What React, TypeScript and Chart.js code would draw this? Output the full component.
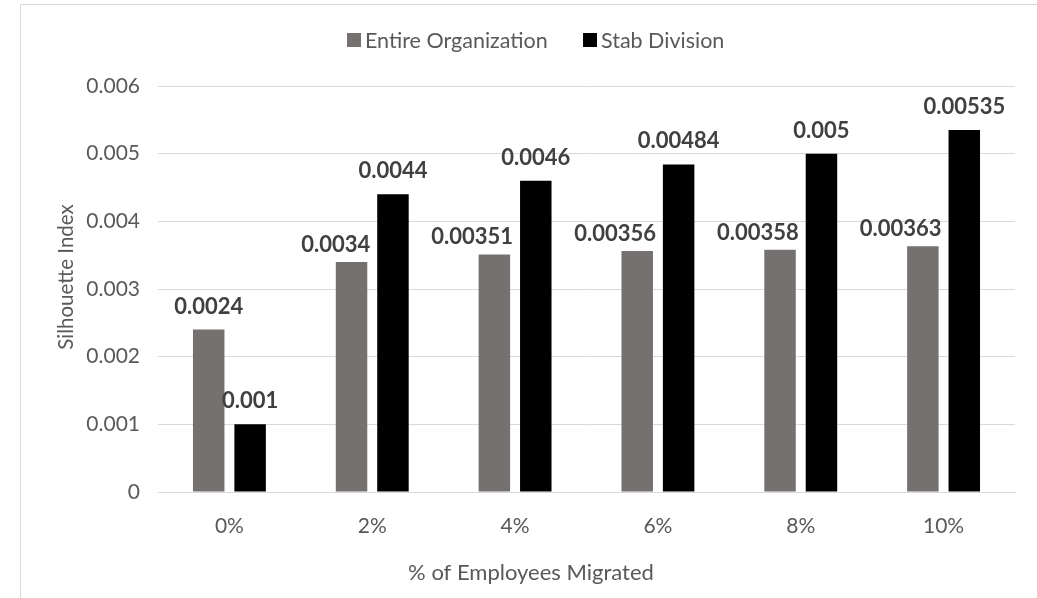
import { useEffect, useRef } from 'react';
import { Chart, registerables } from 'chart.js';

Chart.register(...registerables);

// Silhouette index per migration share
const categories = ['0%', '2%', '4%', '6%', '8%', '10%'];
const entireOrganization = [0.0024, 0.0034, 0.00351, 0.00356, 0.00358, 0.00363];
const stabDivision = [0.001, 0.0044, 0.0046, 0.00484, 0.005, 0.00535];
const yTickLabels = ['0', '0.001', '0.002', '0.003', '0.004', '0.005', '0.006'];
const seriesNames = ['Entire Organization', 'Stab Division'];
const seriesColors = ['#767171', '#000000'];
const xTitle = '% of Employees Migrated';
const yTitle = 'Silhouette Index';

const FONT = 'Lato, "Open Sans", sans-serif';
const TEXT = '#595959';

// value above each bar; grey labels next to a taller black bar are
// pulled left so they stay clear of it
const valueLabels = {
  id: 'valueLabels',
  afterDatasetsDraw(chart: any) {
    const ctx = chart.ctx;
    ctx.save();
    ctx.font = `bold 22px ${FONT}`;
    ctx.fillStyle = '#404040';
    ctx.textBaseline = 'alphabetic';
    chart.data.datasets.forEach((ds: any, i: number) => {
      const meta = chart.getDatasetMeta(i);
      const other = chart.data.datasets[1 - i]?.data ?? [];
      meta.data.forEach((bar: any, j: number) => {
        const text = String(ds.data[j]);
        if (i === 0 && other[j] > ds.data[j]) {
          ctx.textAlign = 'right';
          ctx.fillText(text, bar.x + bar.width / 2 + 3, bar.y - 10);
        } else {
          ctx.textAlign = 'center';
          ctx.fillText(text, bar.x, bar.y - 16);
        }
      });
    });
    ctx.restore();
  },
};

// legend row and axis titles
const decorations = {
  id: 'decorations',
  afterDraw(chart: any) {
    const ctx = chart.ctx;
    ctx.save();
    ctx.font = `21.5px ${FONT}`;
    ctx.textBaseline = 'middle';
    ctx.textAlign = 'left';
    const legendY = 40;
    const boxX = [347, 583];
    seriesNames.forEach((name, i) => {
      ctx.fillStyle = seriesColors[i];
      ctx.fillRect(boxX[i], legendY - 7, 14, 14);
      ctx.fillStyle = TEXT;
      ctx.fillText(name, boxX[i] + 18, legendY + 1);
    });

    ctx.textAlign = 'center';
    ctx.font = `22px ${FONT}`;
    ctx.fillText(xTitle, 531, 573);

    ctx.translate(66, 277);
    ctx.rotate(-Math.PI / 2);
    ctx.font = `20.5px ${FONT}`;
    ctx.fillText(yTitle, 0, 0);
    ctx.restore();
  },
};

export default function App() {
  const canvasRef = useRef<HTMLCanvasElement | null>(null);

  useEffect(() => {
    const canvas = canvasRef.current;
    if (!canvas) return;
    const chart = new Chart(canvas, {
      type: 'bar',
      data: {
        labels: categories,
        datasets: [
          {
            label: seriesNames[0],
            data: entireOrganization,
            backgroundColor: seriesColors[0],
            categoryPercentage: 0.58,
            barPercentage: 0.76,
          },
          {
            label: seriesNames[1],
            data: stabDivision,
            backgroundColor: seriesColors[1],
            categoryPercentage: 0.58,
            barPercentage: 0.76,
          },
        ],
      },
      options: {
        responsive: false,
        animation: false,
        layout: { padding: { top: 86, right: 22, left: 0, bottom: 0 } },
        plugins: {
          legend: { display: false },
          tooltip: { enabled: false },
        },
        scales: {
          x: {
            grid: { display: false, drawTicks: false },
            border: { display: true, color: '#d9d9d9', width: 1 },
            ticks: {
              color: TEXT,
              font: { family: FONT, size: 21 },
              padding: 22,
            },
            afterFit: (s: any) => {
              s.height = 106;
            },
          },
          y: {
            min: 0,
            max: 0.006,
            grid: { color: '#d9d9d9', lineWidth: 1, drawTicks: false },
            border: { display: false },
            ticks: {
              stepSize: 0.001,
              color: TEXT,
              font: { family: FONT, size: 21 },
              padding: 18,
              callback: (_v: any, i: number) => yTickLabels[i],
            },
            afterFit: (s: any) => {
              s.width = 158;
            },
          },
        },
      },
      plugins: [valueLabels, decorations],
    });
    return () => chart.destroy();
  }, []);

  return (
    <div style={{ position: 'absolute', left: 0, top: 0, width: 1037, height: 598, background: '#fff', overflow: 'hidden' }}>
      <div
        style={{
          position: 'absolute',
          left: 20,
          top: 4,
          width: 1100,
          height: 700,
          borderLeft: '1px solid #d9d9d9',
          borderTop: '1px solid #d9d9d9',
        }}
      />
      <canvas ref={canvasRef} width={1037} height={598} style={{ position: 'absolute', left: 0, top: 0 }} />
    </div>
  );
}
